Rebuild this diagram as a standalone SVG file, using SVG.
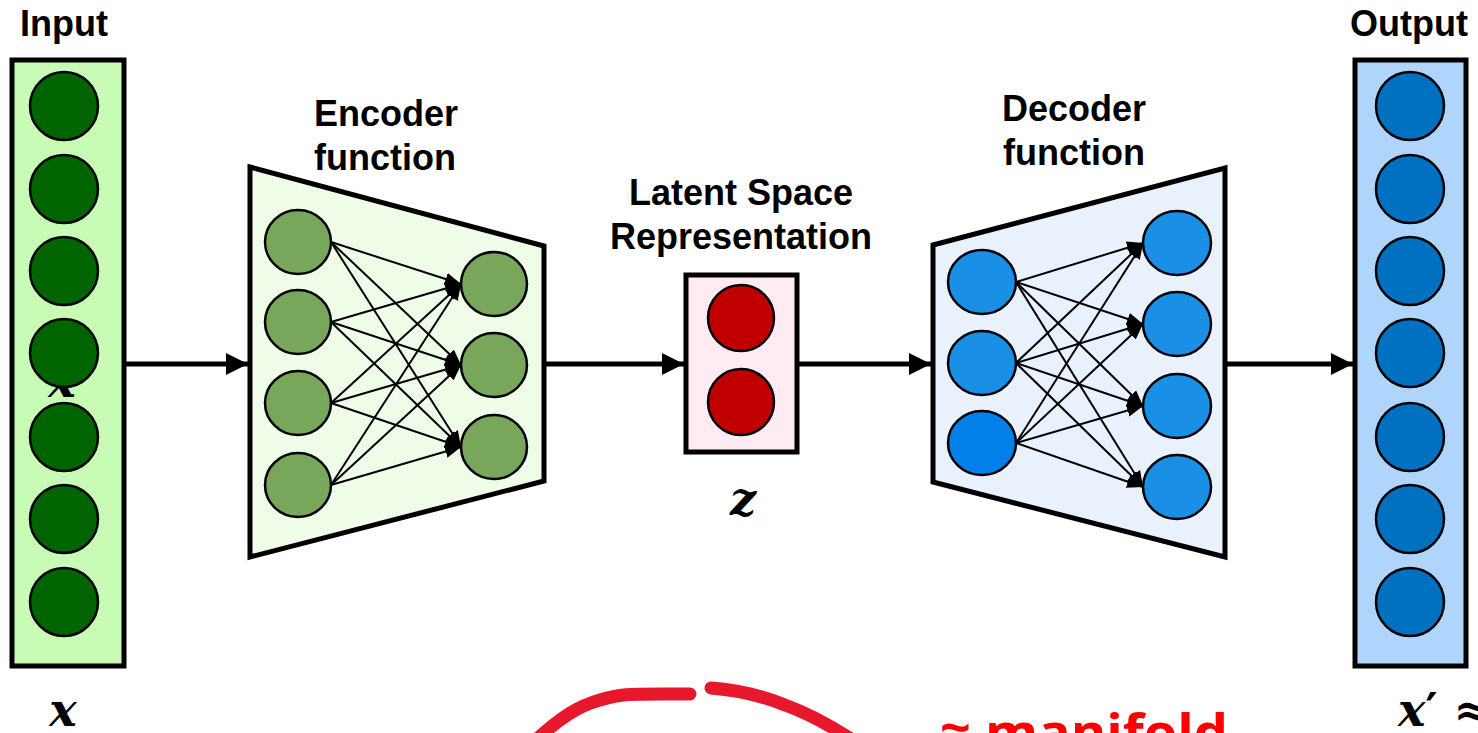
<svg xmlns="http://www.w3.org/2000/svg" width="1478" height="733" viewBox="0 0 1478 733">
  <defs>
    <style>
      .lbl { font-family: "Liberation Sans", Arial, sans-serif; font-weight: bold; font-size: 36px; fill: #000; text-anchor: middle; }
      .math { font-family: "DejaVu Serif", "Liberation Serif", serif; font-weight: bold; font-style: italic; fill: #000; text-anchor: middle; }
      .math-start { text-anchor: start; }
      .prime { font-family: "DejaVu Sans", sans-serif; font-style: normal; }
      .frame { stroke: #000; stroke-width: 5; stroke-linejoin: miter; }
      .node { stroke: #000; stroke-width: 2.5; }
      .main { stroke: #000; stroke-width: 5; fill: none; }
      .thin { stroke: #000; stroke-width: 2; fill: none; }
      .stroke-red { stroke: #e8182c; stroke-width: 13; fill: none; stroke-linecap: round; stroke-linejoin: round; }
    </style>
    <marker id="bigHead" viewBox="0 0 10 10" refX="10" refY="5" markerWidth="4.4" markerHeight="4.4" markerUnits="strokeWidth" orient="auto">
      <path d="M0,0 L10,5 L0,10 z" fill="#000"/>
    </marker>
    <marker id="smallHead" viewBox="0 0 10 10" refX="10" refY="5" markerWidth="8" markerHeight="8" markerUnits="strokeWidth" orient="auto">
      <path d="M0,1 L10,5 L0,9 z" fill="#000"/>
    </marker>
  </defs>

  <rect width="1478" height="733" fill="#fff"/>

  <!-- input layer -->
  <g id="input">
    <text class="lbl" x="64" y="36">Input</text>
    <rect class="frame" x="12" y="60" width="112" height="606" fill="#c8fbb6"/>
    <text class="math" x="62" y="397" font-size="46">x</text>
    <g class="node" fill="#006400">
      <circle cx="64" cy="106" r="34"/>
      <circle cx="64" cy="189" r="34"/>
      <circle cx="64" cy="271" r="34"/>
      <circle cx="64" cy="353" r="34"/>
      <circle cx="64" cy="437" r="34"/>
      <circle cx="64" cy="519" r="34"/>
      <circle cx="64" cy="602" r="34"/>
    </g>
    <text class="math" x="63" y="726" font-size="46">x</text>
  </g>

  <!-- encoder -->
  <g id="encoder">
    <text class="lbl" x="386" y="126">Encoder</text>
    <text class="lbl" x="385" y="170">function</text>
    <polygon class="frame" points="250,167 544,246 544,481 250,557" fill="#eefce8"/>
    <g class="node" fill="#78a65b">
      <ellipse cx="298" cy="242" rx="33" ry="32"/>
      <ellipse cx="298" cy="322" rx="33" ry="32"/>
      <ellipse cx="298" cy="403" rx="33" ry="32"/>
      <ellipse cx="298" cy="485" rx="33" ry="32"/>
      <ellipse cx="494" cy="284" rx="33" ry="32"/>
      <ellipse cx="494" cy="365" rx="33" ry="32"/>
      <ellipse cx="494" cy="447" rx="33" ry="32"/>
    </g>
  </g>

  <!-- latent code -->
  <g id="latent">
    <text class="lbl" x="741" y="205">Latent Space</text>
    <text class="lbl" x="741" y="249">Representation</text>
    <rect class="frame" x="686" y="275" width="111" height="177" fill="#ffebf1"/>
    <g class="node" fill="#c00000">
      <circle cx="741" cy="318" r="33"/>
      <circle cx="741" cy="402" r="33"/>
    </g>
    <text class="math" x="743" y="515" font-size="46">z</text>
  </g>

  <!-- decoder -->
  <g id="decoder">
    <text class="lbl" x="1074" y="121">Decoder</text>
    <text class="lbl" x="1074" y="165">function</text>
    <polygon class="frame" points="933,245 1225,168 1225,557 933,482" fill="#e9f1fd"/>
    <g class="node" fill="#1a8fe6">
      <ellipse cx="982" cy="282" rx="34" ry="32"/>
      <ellipse cx="982" cy="363" rx="34" ry="32"/>
      <ellipse cx="982" cy="443" rx="34" ry="32" fill="#0080e8"/>
      <ellipse cx="1177" cy="243" rx="34" ry="32"/>
      <ellipse cx="1177" cy="324" rx="34" ry="32"/>
      <ellipse cx="1177" cy="406" rx="34" ry="32"/>
      <ellipse cx="1177" cy="487" rx="34" ry="32"/>
    </g>
  </g>

  <!-- output layer -->
  <g id="output">
    <text class="lbl" x="1409" y="36">Output</text>
    <rect class="frame" x="1355" y="60" width="111" height="606" fill="#b0d5fd"/>
    <g class="node" fill="#0070c0">
      <circle cx="1410" cy="106" r="34"/>
      <circle cx="1410" cy="189" r="34"/>
      <circle cx="1410" cy="271" r="34"/>
      <circle cx="1410" cy="353" r="34"/>
      <circle cx="1410" cy="437" r="34"/>
      <circle cx="1410" cy="519" r="34"/>
      <circle cx="1410" cy="602" r="34"/>
    </g>
    <text class="math math-start" x="1398" y="726" font-size="46">x<tspan class="prime">′</tspan> ≈</text>
  </g>

  <!-- connectors -->
  <g id="connectors">
    <g class="main" marker-end="url(#bigHead)">
      <line x1="124" y1="364" x2="248" y2="364"/>
      <line x1="544" y1="364" x2="684" y2="364"/>
      <line x1="797" y1="364" x2="931" y2="364"/>
      <line x1="1225" y1="364" x2="1353" y2="364"/>
    </g>
    <g class="thin" marker-end="url(#smallHead)">
      <line x1="331" y1="242" x2="461" y2="284"/>
      <line x1="331" y1="242" x2="461" y2="365"/>
      <line x1="331" y1="242" x2="461" y2="447"/>
      <line x1="331" y1="322" x2="461" y2="284"/>
      <line x1="331" y1="322" x2="461" y2="365"/>
      <line x1="331" y1="322" x2="461" y2="447"/>
      <line x1="331" y1="403" x2="461" y2="284"/>
      <line x1="331" y1="403" x2="461" y2="365"/>
      <line x1="331" y1="403" x2="461" y2="447"/>
      <line x1="331" y1="485" x2="461" y2="284"/>
      <line x1="331" y1="485" x2="461" y2="365"/>
      <line x1="331" y1="485" x2="461" y2="447"/>

      <line x1="1016" y1="282" x2="1143" y2="243"/>
      <line x1="1016" y1="282" x2="1143" y2="324"/>
      <line x1="1016" y1="282" x2="1143" y2="406"/>
      <line x1="1016" y1="282" x2="1143" y2="487"/>
      <line x1="1016" y1="363" x2="1143" y2="243"/>
      <line x1="1016" y1="363" x2="1143" y2="324"/>
      <line x1="1016" y1="363" x2="1143" y2="406"/>
      <line x1="1016" y1="363" x2="1143" y2="487"/>
      <line x1="1016" y1="443" x2="1143" y2="243"/>
      <line x1="1016" y1="443" x2="1143" y2="324"/>
      <line x1="1016" y1="443" x2="1143" y2="406"/>
      <line x1="1016" y1="443" x2="1143" y2="487"/>
    </g>
  </g>

  <!-- hand-drawn manifold mark -->
  <g id="manifold">
    <path class="stroke-red" d="M536,740 C560,718 578,706 600,700 C622,693 628,694 690,694"/>
    <path class="stroke-red" d="M711,688 C738,690 760,695 785,705 C810,714 835,728 860,745"/>
    <text x="940" y="750" font-family="'Open Sans', 'Liberation Sans', sans-serif" font-weight="bold" font-size="50" fill="#ff0000" textLength="288" lengthAdjust="spacingAndGlyphs">≈ manifold</text>
  </g>
</svg>
